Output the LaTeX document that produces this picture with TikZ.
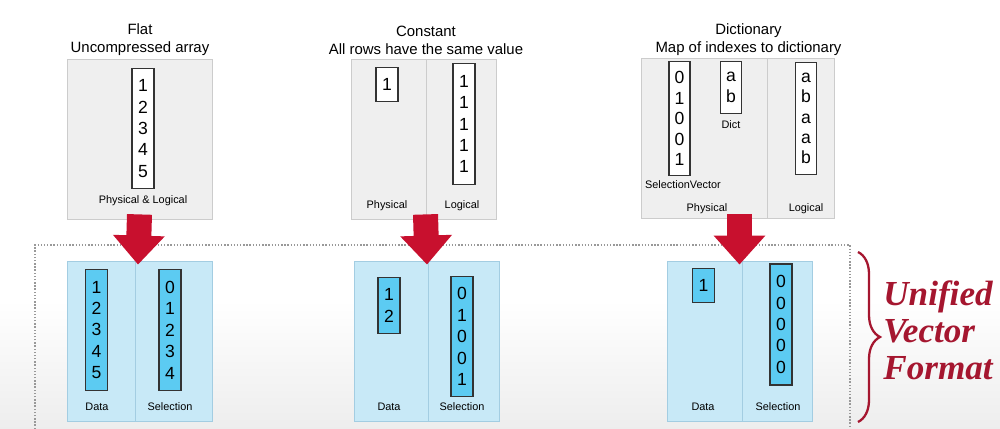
\documentclass[tikz,border=0pt]{standalone}
\usepackage{fontspec}
\setmainfont{Liberation Sans}
\newfontfamily\uvffont{Liberation Serif}
\usetikzlibrary{arrows.meta,calc,decorations.pathreplacing}

\definecolor{panelfill}{HTML}{EFEFEF}
\definecolor{panelline}{HTML}{CCCCCC}
\definecolor{uvffill}{HTML}{C8E9F7}
\definecolor{uvfline}{HTML}{A3CDE2}
\definecolor{cellblue}{HTML}{5CCBF2}
\definecolor{arrowred}{HTML}{C8102E}
\definecolor{uvfred}{HTML}{A5162F}

\newcommand{\ttlfont}{\fontsize{8.5}{10.2}\selectfont}
\newcommand{\vecfont}{\fontsize{10}{12.2}\selectfont}
\newcommand{\lblfont}{\fontsize{6.2}{7}\selectfont}

\begin{document}
\begin{tikzpicture}[x=0.02cm,y=-0.02cm,
  phys/.style={draw=panelline,fill=panelfill,line width=0.5pt,
    minimum width=2.9cm,minimum height=3.2cm},
  uvf/.style={phys,draw=uvfline,fill=uvffill},
  vec/.style={draw=black!80,fill=white,line width=0.6pt,align=center,
    font=\vecfont,inner xsep=0pt,inner ysep=6.5pt,minimum width=0.44cm},
  dvec/.style={vec,font=\fontsize{10}{11.6}\selectfont,inner ysep=6pt,minimum width=0.42cm},
  uvec/.style={vec,fill=cellblue},
  lbl/.style={font=\lblfont,inner sep=1pt},
  ttl/.style={align=center,font=\ttlfont},
  fat/.style={-{Triangle[width=1cm,length=0.58cm]},line width=0.5cm,draw=arrowred}]
  \useasboundingbox (0,0) rectangle (1000,429);
  \shade[top color=white,bottom color=black!7] (0,300) rectangle (1000,429);

  % titles
  \node[ttl] (flatTtl)  at (140,40)   {Flat\\Uncompressed array};
  \node[ttl] (constTtl) at (426,40)   {Constant\\All rows have the same value};
  \node[ttl] (dictTtl)  at (748.5,40) {Dictionary\\Map of indexes to dictionary};

  % physical layouts
  \node[phys] (flatTop)  at (139.5,139) {};
  \node[phys] (constTop) at (423.5,139) {};
  \node[phys,minimum width=3.86cm] (dictTop) at (737.5,138.5) {};
  \draw[panelline,line width=0.5pt] (426,59) -- (426,219);
  \draw[panelline,line width=0.5pt] (767,58) -- (767,219);

  \node[vec]  (flatVals)  at (143,128.5)   {1\\2\\3\\4\\5};
  \node[vec]  (constPhys) at (387,84.5)    {1};
  \node[vec]  (constLog)  at (464,124)     {1\\1\\1\\1\\1};
  \node[dvec] (dictSel)   at (679.5,118.5) {0\\1\\0\\0\\1};
  \node[dvec] (dictDict)  at (731,87.5)    {a\\b};
  \node[dvec] (dictLog)   at (806,118.5)   {a\\b\\a\\a\\b};

  \node[lbl] (flatLbl)      at (143,201) {Physical \& Logical};
  \node[lbl] (constPhysLbl) at (387,206) {Physical};
  \node[lbl] (constLogLbl)  at (462,206) {Logical};
  \node[lbl] (dictSelLbl)   at (683,185) {SelectionVector};
  \node[lbl] (dictDictLbl)  at (731,125) {Dict};
  \node[lbl] (dictPhysLbl)  at (707,209) {Physical};
  \node[lbl] (dictLogLbl)   at (806,209) {Logical};

  % unified vector format
  \draw[gray!80,densely dotted,line width=0.8pt] (35,429) -- (35,245) -- (850,245) -- (850,429);

  \node[uvf] (flatUvf)  at (139.5,341) {};
  \node[uvf] (constUvf) at (426.5,341) {};
  \node[uvf] (dictUvf)  at (739.5,341) {};
  \draw[uvfline,line width=0.5pt] (135,261) -- (135,421);
  \draw[uvfline,line width=0.5pt] (428,261) -- (428,421);
  \draw[uvfline,line width=0.5pt] (742,261) -- (742,421);

  \node[uvec] (flatData)  at (96.5,330)  {1\\2\\3\\4\\5};
  \node[uvec] (flatSel)   at (170,330)   {0\\1\\2\\3\\4};
  \node[uvec] (constData) at (389,305.5) {1\\2};
  \node[uvec] (constSel)  at (462,336.5) {0\\1\\0\\0\\1};
  \node[uvec] (dictData)  at (703.5,285.5) {1};
  \node[uvec] (dictSelU)  at (781,324.5) {0\\0\\0\\0\\0};

  \node[lbl] (flatDataLbl)  at (97,407)  {Data};
  \node[lbl] (flatSelLbl)   at (170,407) {Selection};
  \node[lbl] (constDataLbl) at (389,407) {Data};
  \node[lbl] (constSelLbl)  at (462,407) {Selection};
  \node[lbl] (dictDataLbl)  at (703,407) {Data};
  \node[lbl] (dictSelLbl2)  at (778,407) {Selection};

  % conversion arrows
  \draw[fat] ($(flatTop.south)+(0,-5)$)  -- ($(flatUvf.north)+(-1.5,4)$);
  \draw[fat] ($(constTop.south)+(2,-5)$) -- ($(constUvf.north)+(0.5,4)$);
  \draw[fat] ($(dictTop.south)+(2,-5)$)  -- ($(dictUvf.north)+(0,4)$);

  % brace and caption
  \coordinate (braceTop) at (858,252);
  \coordinate (braceBot) at (858,422);
  \draw[uvfred,line width=1.3pt,decorate,decoration={brace,amplitude=0.44cm}]
    (braceTop) -- (braceBot);
  \node[anchor=west,align=left,text=uvfred,inner sep=0pt,
    font=\uvffont\bfseries\itshape\fontsize{20}{21}\selectfont] (uvfTxt) at (883,330)
    {Unified\\Vector\\Format};
\end{tikzpicture}
\end{document}
